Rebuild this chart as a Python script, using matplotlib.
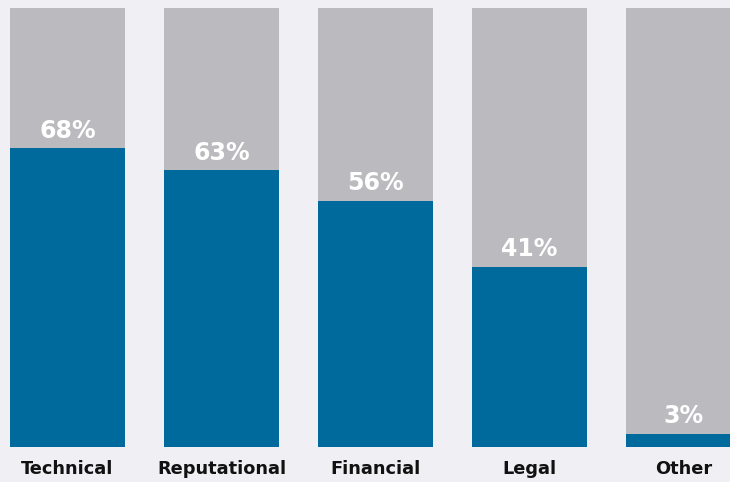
import matplotlib
matplotlib.use("Agg")
import matplotlib.pyplot as plt

categories = ["Technical", "Reputational", "Financial", "Legal", "Other"]
values = [68, 63, 56, 41, 3]
labels = ["68%", "63%", "56%", "41%", "3%"]

BG = "#f0eff4"
GRAY = "#bbbabe"
BLUE = "#016a9d"
FONT = ["DejaVu Sans"]

fig = plt.figure(figsize=(7.30, 4.82), dpi=100, facecolor=BG)
ax = fig.add_axes([0, 35 / 482, 1, 439 / 482])
ax.set_facecolor(BG)

x = list(range(len(categories)))
width = 115 / 154
ax.bar(x, [100] * len(x), width=width, color=GRAY)
ax.bar(x, values, width=width, color=BLUE)

for xi, v, lab in zip(x, values, labels):
    ax.text(xi, v + 1.3, lab, ha="center", va="bottom", color="white",
            fontsize=17, fontweight="bold", family=FONT)
    ax.text(xi, -3.0, categories[xi], ha="center", va="top",
            color="#111111", fontsize=12.8, fontweight="bold", family=FONT,
            clip_on=False)

ax.set_xlim(-67.5 / 154, (730 - 67.5) / 154)
ax.set_ylim(0, 100)
ax.axis("off")

fig.savefig("out.png", dpi=100, facecolor=BG)
